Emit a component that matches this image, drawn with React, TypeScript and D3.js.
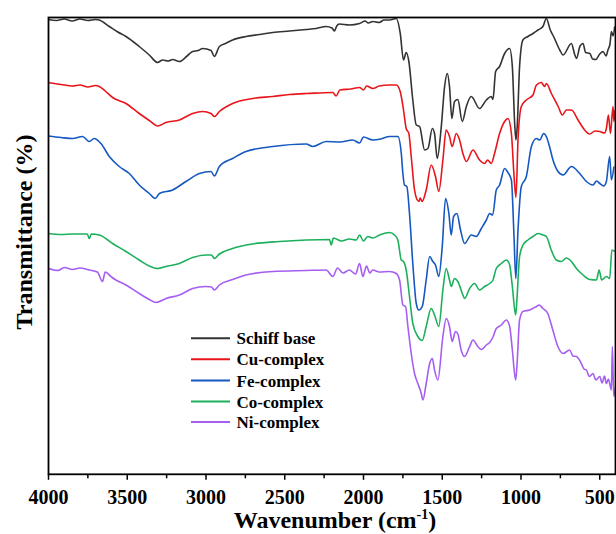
import React from "react";
import * as d3 from "d3";

// FTIR spectra: [wavenumber (cm-1), transmittance (offset, a.u.)]
const schiffBase: [number, number][] = [
  [4000, 90.9], [3950, 90.7], [3900, 91.0], [3850, 90.6], [3800, 91.0], [3750, 90.7], [3700, 90.9], [3678, 90.8],
  [3614, 89.5], [3560, 88.4], [3508, 87.5], [3424, 85.5], [3360, 83.8], [3307, 82.3], [3276, 82.8], [3240, 82.6],
  [3212, 82.9], [3169, 82.5], [3120, 83.6], [3085, 84.5], [3050, 84.7], [3021, 85.1], [2968, 84.7], [2947, 83.5],
  [2915, 85.5], [2870, 86.2], [2831, 86.8], [2746, 87.5], [2660, 87.9], [2576, 88.3], [2470, 88.6], [2364, 88.9],
  [2300, 89.1], [2237, 89.5], [2200, 89.2], [2184, 88.6], [2170, 89.6], [2153, 90.0], [2090, 89.8], [2025, 90.1],
  [1990, 90.6], [1970, 90.2], [1941, 90.5], [1900, 90.3], [1870, 90.8], [1835, 90.8], [1792, 91.1],
  [1767, 88.2], [1746, 82.8], [1729, 84.3], [1712, 82.5], [1687, 74.8], [1665, 69.8], [1644, 69.5],
  [1612, 64.8], [1591, 65.1], [1563, 69.1], [1549, 68.1], [1532, 63.1], [1506, 69.5], [1485, 77.5],
  [1468, 80.1], [1454, 77.5], [1439, 71.1], [1422, 74.5], [1401, 74.9], [1373, 70.5], [1347, 73.5],
  [1316, 75.5], [1263, 73.1], [1220, 74.8], [1189, 75.5], [1178, 74.9], [1161, 80.5], [1136, 81.5],
  [1104, 84.1], [1072, 85.1], [1055, 81.5], [1040, 70.0], [1032, 66.8], [1024, 69.5], [1009, 81.5],
  [988, 86.8], [956, 87.5], [924, 88.1], [892, 88.8], [861, 89.5], [839, 91.1], [814, 88.8], [793, 87.5],
  [754, 84.8], [733, 83.8], [680, 86.1], [660, 84.0], [648, 83.1], [625, 85.6], [606, 86.1], [590, 84.3],
  [563, 84.1], [545, 83.0], [526, 82.9], [500, 84.0], [479, 84.5], [460, 83.6], [448, 84.8], [435, 86.0],
  [426, 88.5], [415, 87.6], [405, 89.5],
];

const cuComplex: [number, number][] = [
  [4000, 78.3], [3920, 77.9], [3847, 77.6], [3800, 77.8], [3750, 77.4], [3700, 77.7], [3678, 77.5],
  [3640, 76.6], [3593, 75.3], [3508, 74.1], [3424, 72.1], [3360, 70.7], [3307, 69.6], [3254, 70.3],
  [3169, 70.8], [3085, 72.1], [3021, 72.5], [2968, 72.1], [2947, 71.5], [2915, 72.5], [2831, 74.1],
  [2704, 75.1], [2576, 75.5], [2470, 75.9], [2364, 76.1], [2280, 76.2], [2195, 76.3], [2174, 75.6],
  [2150, 76.8], [2080, 77.0], [2025, 77.3], [2000, 76.8], [1980, 77.6], [1941, 77.1], [1900, 77.6],
  [1835, 77.8], [1792, 77.8], [1767, 76.5], [1746, 72.8], [1729, 69.1], [1712, 68.1], [1697, 63.5],
  [1676, 56.8], [1662, 55.0], [1648, 54.5], [1640, 55.2], [1628, 54.5], [1602, 56.8], [1570, 61.8],
  [1543, 59.5], [1522, 56.5], [1496, 62.8], [1475, 68.8], [1454, 67.5], [1437, 65.5], [1411, 68.1],
  [1390, 66.8], [1369, 64.1], [1347, 62.5], [1305, 64.8], [1263, 62.8], [1231, 62.1], [1212, 62.8],
  [1189, 62.1], [1168, 64.1], [1136, 68.1], [1104, 70.5], [1083, 71.1], [1061, 68.1], [1045, 60.0],
  [1032, 55.3], [1019, 66.8], [998, 73.5], [966, 74.8], [924, 75.8], [902, 77.8], [871, 78.3],
  [850, 77.5], [839, 78.1], [807, 76.1], [764, 73.5], [737, 71.8], [712, 72.8], [680, 72.8], [638, 70.8],
  [596, 68.8], [564, 68.0], [530, 68.6], [500, 68.5], [470, 68.2], [458, 69.1], [445, 71.8], [432, 68.1],
  [416, 73.5], [410, 70.5], [403, 72.8],
];

const feComplex: [number, number][] = [
  [4000, 67.6], [3920, 67.3], [3847, 67.1], [3784, 67.5], [3741, 66.5], [3710, 67.1], [3667, 66.1],
  [3614, 63.5], [3551, 61.5], [3487, 60.1], [3424, 57.8], [3360, 56.1], [3322, 55.1], [3296, 56.1],
  [3212, 56.8], [3127, 58.5], [3042, 60.1], [2968, 60.5], [2947, 59.6], [2915, 61.5], [2831, 63.1],
  [2746, 64.5], [2576, 65.5], [2364, 66.0], [2322, 65.5], [2237, 66.5], [2150, 66.4], [2068, 66.8],
  [2025, 66.2], [2000, 67.4], [1941, 66.8], [1890, 67.0], [1835, 67.5], [1782, 67.5], [1760, 64.1],
  [1750, 60.1], [1740, 57.8], [1725, 57.5], [1708, 52.1], [1687, 42.1], [1665, 34.1], [1649, 32.8],
  [1627, 33.5], [1602, 38.8], [1580, 43.5], [1560, 42.5], [1543, 41.8], [1522, 39.5], [1500, 45.5],
  [1479, 55.1], [1458, 52.1], [1443, 47.8], [1428, 51.5], [1407, 52.1], [1384, 48.8], [1358, 46.1],
  [1316, 47.8], [1284, 47.5], [1252, 49.1], [1220, 50.8], [1199, 52.1], [1180, 51.8], [1157, 56.8],
  [1136, 57.8], [1104, 61.1], [1085, 60.4], [1061, 58.8], [1045, 48.0], [1033, 39.1], [1019, 48.8],
  [998, 57.5], [966, 59.5], [934, 65.5], [902, 67.1], [881, 66.8], [856, 68.1], [838, 67.4], [819, 65.5],
  [797, 62.8], [765, 60.5], [733, 59.8], [680, 61.5], [627, 60.1], [585, 58.5], [543, 57.8], [520, 58.6],
  [500, 58.1], [475, 57.6], [458, 58.5], [437, 63.5], [426, 58.8], [410, 61.5],
];

const coComplex: [number, number][] = [
  [4000, 48.1], [3920, 47.9], [3847, 48.0], [3754, 48.0], [3741, 47.1], [3728, 48.0], [3678, 47.8],
  [3593, 46.1], [3508, 44.5], [3424, 42.8], [3360, 41.6], [3307, 41.1], [3254, 41.5], [3169, 42.1],
  [3085, 43.3], [3000, 43.8], [2966, 43.8], [2947, 43.1], [2915, 44.0], [2831, 45.1], [2704, 46.0],
  [2534, 46.5], [2364, 46.8], [2216, 46.9], [2205, 45.8], [2191, 47.2], [2140, 46.6], [2090, 47.0],
  [2046, 46.8], [2025, 47.8], [2000, 46.6], [1973, 47.5], [1941, 47.2], [1898, 47.8], [1835, 48.3],
  [1803, 47.8], [1782, 46.8], [1760, 42.8], [1746, 42.5], [1729, 40.8], [1708, 35.5], [1687, 30.1],
  [1655, 27.5], [1627, 26.7], [1602, 29.5], [1570, 33.1], [1549, 31.8], [1522, 29.5], [1496, 36.8],
  [1475, 41.1], [1454, 38.8], [1443, 37.5], [1422, 39.1], [1401, 38.5], [1369, 35.8], [1358, 35.1],
  [1326, 37.1], [1295, 38.1], [1263, 36.8], [1231, 37.5], [1199, 38.1], [1178, 38.8], [1157, 41.1],
  [1125, 42.1], [1093, 42.8], [1072, 41.8], [1055, 37.5], [1034, 31.8], [1026, 34.8], [1009, 43.5],
  [988, 45.8], [956, 46.8], [924, 47.5], [892, 48.1], [861, 47.8], [839, 47.5], [808, 44.8],
  [776, 42.8], [744, 42.5], [712, 43.2], [680, 42.5], [648, 41.1], [606, 39.8], [563, 38.9],
  [521, 38.8], [504, 40.8], [488, 38.8], [458, 39.5], [437, 39.1], [423, 44.8], [405, 44.5],
];

const niComplex: [number, number][] = [
  [4000, 41.1], [3940, 40.7], [3900, 41.3], [3847, 40.9], [3800, 41.2], [3741, 40.8], [3690, 40.4],
  [3657, 38.5], [3640, 40.4], [3600, 39.4], [3572, 38.8], [3508, 37.8], [3424, 36.1], [3360, 34.9],
  [3317, 34.3], [3254, 35.1], [3169, 35.8], [3085, 37.1], [3000, 37.5], [2966, 37.4], [2947, 36.8],
  [2915, 37.8], [2831, 38.9], [2746, 39.8], [2576, 40.5], [2364, 40.7], [2237, 40.8], [2195, 39.5],
  [2165, 41.2], [2130, 40.2], [2090, 40.8], [2050, 40.0], [2025, 42.1], [2004, 39.5], [1981, 41.6],
  [1960, 40.2], [1941, 40.8], [1900, 40.4], [1835, 40.5], [1792, 40.1], [1771, 38.8], [1750, 33.8],
  [1733, 33.5], [1718, 29.5], [1697, 24.1], [1676, 20.1], [1655, 18.1], [1633, 16.1], [1623, 14.8],
  [1602, 18.1], [1580, 22.1], [1563, 23.1], [1549, 20.8], [1528, 18.8], [1496, 27.5], [1475, 31.1],
  [1454, 29.5], [1437, 26.5], [1416, 28.5], [1401, 28.0], [1380, 24.8], [1358, 23.5], [1326, 25.5],
  [1305, 26.8], [1274, 25.5], [1252, 24.9], [1220, 25.8], [1199, 26.3], [1178, 27.4], [1157, 29.1],
  [1125, 29.8], [1093, 30.8], [1072, 29.5], [1055, 24.8], [1034, 18.8], [1026, 21.5], [1009, 30.8],
  [988, 32.5], [945, 32.8], [902, 33.5], [885, 33.8], [861, 33.1], [830, 32.1], [798, 28.8],
  [766, 25.5], [733, 24.1], [691, 24.8], [670, 23.6], [648, 23.5], [617, 22.1], [600, 21.0],
  [585, 20.8], [565, 19.5], [543, 20.1], [525, 18.8], [500, 19.5], [485, 18.2], [470, 19.6],
  [458, 18.1], [445, 19.0], [426, 16.8], [420, 25.5], [411, 15.5], [400, 17.5],
];

const seriesNames = ["Schiff base", "Cu-complex", "Fe-complex", "Co-complex", "Ni-complex"];
const seriesColors = ["#333333", "#e8161b", "#1558c0", "#1db05c", "#a65ef2"];
const seriesData = [schiffBase, cuComplex, feComplex, coComplex, niComplex];

const majorTicks = [4000, 3500, 3000, 2500, 2000, 1500, 1000, 500];
const minorTicks = [3750, 3250, 2750, 2250, 1750, 1250, 750];

const W = 616;
const H = 534;
const left = 48.5;
const right = 615.5;
const top = 17.5;
const bottom = 474.3;
const font = "'Liberation Serif', 'Times New Roman', serif";

export default function App() {
  const x = d3.scaleLinear().domain([4000, 400]).range([left, right]);
  const y = d3.scaleLinear().domain([0, 91.4]).range([474, 17]);
  const line = d3
    .line<[number, number]>()
    .x((d) => x(d[0]))
    .y((d) => y(d[1]))
    .curve(d3.curveMonotoneX);

  const legendY = [338.3, 359.3, 380.5, 401.5, 422];

  return (
    <svg width={W} height={H} style={{ position: "absolute", left: 0, top: 0, background: "#fff" }}>
      <defs>
        <clipPath id="plotclip">
          <rect x={left} y={top} width={right - left} height={bottom - top} />
        </clipPath>
      </defs>
      <g clipPath="url(#plotclip)">
        {seriesData.map((data, i) => (
          <path
            key={seriesNames[i]}
            d={line(data) || ""}
            fill="none"
            stroke={seriesColors[i]}
            strokeWidth={1.6}
            strokeLinejoin="round"
          />
        ))}
      </g>
      {/* frame */}
      <rect x={left} y={top} width={right - left} height={bottom - top} fill="none" stroke="#000" strokeWidth={1.8} />
      {/* ticks */}
      {majorTicks.map((t) => (
        <g key={t}>
          <line x1={x(t)} x2={x(t)} y1={bottom} y2={bottom + 5.5} stroke="#000" strokeWidth={1.5} />
          <text
            x={x(t)}
            y={503.5}
            textAnchor="middle"
            fontFamily={font}
            fontWeight="bold"
            fontSize={20}
            fill="#000"
          >
            {t}
          </text>
        </g>
      ))}
      {minorTicks.map((t) => (
        <line key={t} x1={x(t)} x2={x(t)} y1={bottom} y2={bottom + 4} stroke="#000" strokeWidth={1.5} />
      ))}
      {/* axis titles */}
      <text x={335} y={528} textAnchor="middle" fontFamily={font} fontWeight="bold" fontSize={24} fill="#000">
        Wavenumber (cm
        <tspan dy={-9} fontSize={14}>-1</tspan>
        <tspan dy={9}>)</tspan>
      </text>
      <text
        transform="translate(32,232) rotate(-90)"
        textAnchor="middle"
        fontFamily={font}
        fontWeight="bold"
        fontSize={24}
        fill="#000"
      >
        Transmittance (%)
      </text>
      {/* legend */}
      {seriesNames.map((name, i) => (
        <g key={name}>
          <line x1={191} x2={230} y1={legendY[i]} y2={legendY[i]} stroke={seriesColors[i]} strokeWidth={2} />
          <text x={236.5} y={legendY[i] + 6} fontFamily={font} fontWeight="bold" fontSize={17} fill="#000">
            {name}
          </text>
        </g>
      ))}
    </svg>
  );
}
